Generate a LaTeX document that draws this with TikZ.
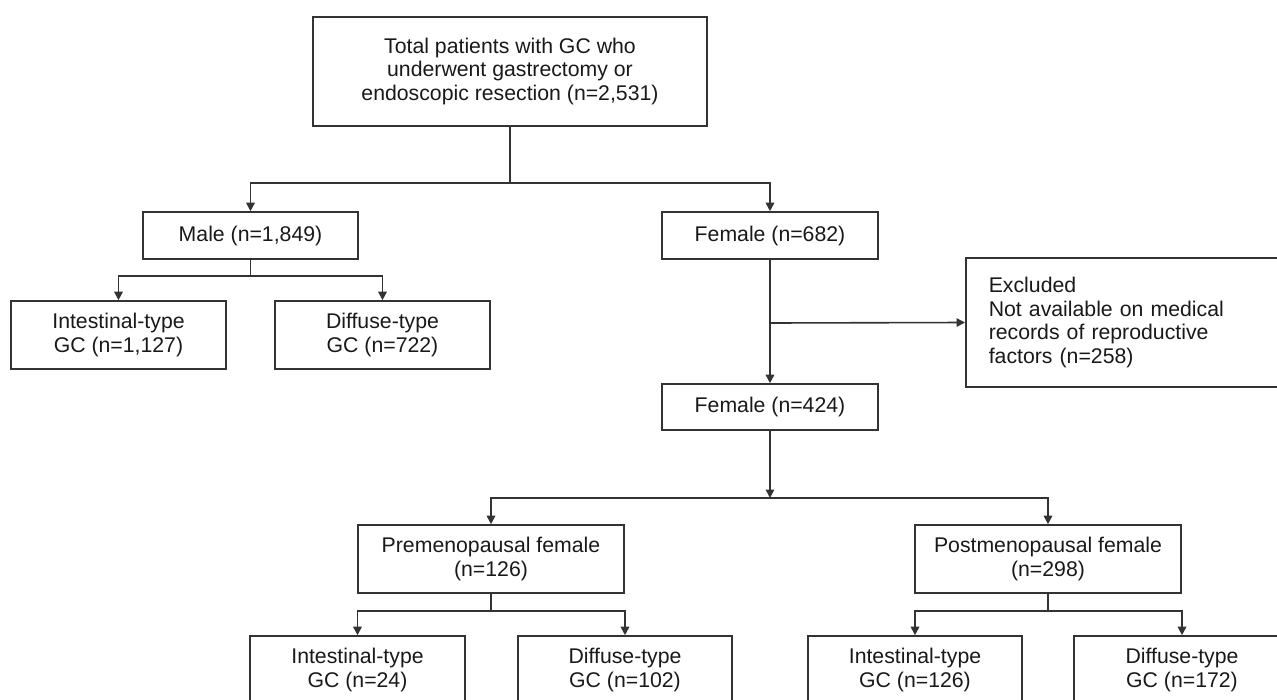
\documentclass[tikz,border=0pt]{standalone}
\usepackage{fontspec}
\setmainfont{Liberation Sans}
\usetikzlibrary{arrows.meta}
\begin{document}
\begin{tikzpicture}[x=1pt,y=-1pt,
  box/.style={draw=black!80, line width=1.6pt, rectangle, inner sep=0pt, align=center,
    font=\fontsize{21.25}{23.8}\selectfont, text=black!90},
  arr/.style={draw=black!80, line width=1.6pt, -{Triangle[length=8.5pt,width=8.5pt]}},
  ln/.style={draw=black!80, line width=1.6pt}]
\useasboundingbox (0,0) rectangle (1277,699);
\clip (0,0) rectangle (1277,699);
% nodes
\node[box, minimum width=394pt, minimum height=109pt] (top) at (510,71.5)
  {Total patients with GC who\\underwent gastrectomy or\\endoscopic resection (n=2,531)};
\node[box, minimum width=215pt, minimum height=47pt] (male) at (250.5,235.5) {Male (n=1,849)};
\node[box, minimum width=216pt, minimum height=47pt] (fem1) at (770,235.5) {Female (n=682)};
\node[box, minimum width=215pt, minimum height=68pt] (int1) at (118.5,335) {Intestinal-type\\GC (n=1,127)};
\node[box, minimum width=215pt, minimum height=68pt] (dif1) at (382.5,335) {Diffuse-type\\GC (n=722)};
\node[box, align=left, text width=289pt, inner xsep=23pt, minimum height=129pt, anchor=west] (excl) at (965,322.5)
  {Excluded\\Not available on medical\\records of reproductive\\factors (n=258)};
\node[box, minimum width=216pt, minimum height=46pt] (fem2) at (770,407) {Female (n=424)};
\node[box, minimum width=266pt, minimum height=68pt] (pre) at (491,559) {Premenopausal female\\(n=126)};
\node[box, minimum width=266pt, minimum height=68pt] (post) at (1048,559) {Postmenopausal female\\(n=298)};
\node[box, minimum width=215pt, minimum height=68pt] (int2) at (357.5,670) {Intestinal-type\\GC (n=24)};
\node[box, minimum width=214pt, minimum height=68pt] (dif2) at (625,670) {Diffuse-type\\GC (n=102)};
\node[box, minimum width=214pt, minimum height=68pt] (int3) at (915,670) {Intestinal-type\\GC (n=126)};
\node[box, minimum width=216pt, minimum height=68pt] (dif3) at (1182,670) {Diffuse-type\\GC (n=172)};
% branch coordinates
\coordinate (b1) at (510,183);
\coordinate (b2) at (250.5,276);
\coordinate (b3) at (770,323);
\coordinate (b4) at (770,498);
\coordinate (b5) at (491,611);
\coordinate (b6) at (1048,611);
% connectors
\draw[ln] (top.south) -- (b1);
\draw[arr] (b1) -| (male.north);
\draw[arr] (b1) -| (fem1.north);
\draw[ln] (male.south) -- (b2);
\draw[arr] (b2) -| (int1.north);
\draw[arr] (b2) -| (dif1.north);
\draw[arr] (fem1.south) -- (fem2.north);
\draw[arr] (b3) -- (excl.west);
\draw[arr] (fem2.south) -- (b4);
\draw[arr] (b4) -| (pre.north);
\draw[arr] (b4) -| (post.north);
\draw[ln] (pre.south) -- (b5);
\draw[arr] (b5) -| (int2.north);
\draw[arr] (b5) -| (dif2.north);
\draw[ln] (post.south) -- (b6);
\draw[arr] (b6) -| (int3.north);
\draw[arr] (b6) -| (dif3.north);
\end{tikzpicture}
\end{document}
